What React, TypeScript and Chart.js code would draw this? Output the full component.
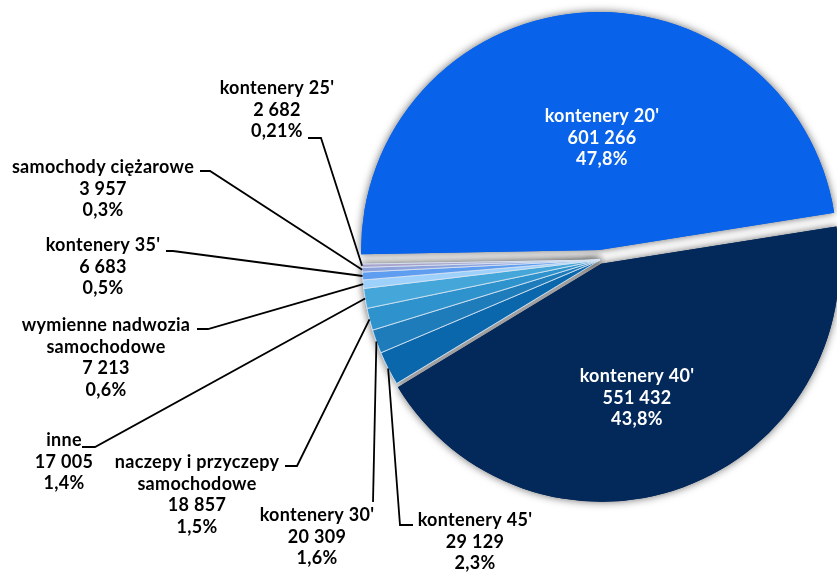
import React, { useEffect, useRef } from "react";
import { Chart, registerables } from "chart.js";

Chart.register(...registerables);

// ---- data ----
const categories = [
  "kontenery 20'",
  "kontenery 40'",
  "kontenery 45'",
  "kontenery 30'",
  "naczepy i przyczepy samochodowe",
  "inne",
  "wymienne nadwozia samochodowe",
  "kontenery 35'",
  "samochody ciężarowe",
  "kontenery 25'",
];
const values = [601266, 551432, 29129, 20309, 18857, 17005, 7213, 6683, 3957, 2682];
const valueLabels = ["601 266", "551 432", "29 129", "20 309", "18 857", "17 005", "7 213", "6 683", "3 957", "2 682"];
const percentLabels = ["47,8%", "43,8%", "2,3%", "1,6%", "1,5%", "1,4%", "0,6%", "0,5%", "0,3%", "0,21%"];
const nameLines = [
  ["kontenery 20'"],
  ["kontenery 40'"],
  ["kontenery 45'"],
  ["kontenery 30'"],
  ["naczepy i przyczepy", "samochodowe"],
  ["inne"],
  ["wymienne nadwozia", "samochodowe"],
  ["kontenery 35'"],
  ["samochody ciężarowe"],
  ["kontenery 25'"],
];

// ---- styles / layout ----
const colors = ["#0862EA", "#03285A", "#0A67AB", "#1E7CBB", "#2E92CC", "#45A7D9", "#9DD0FB", "#5E9DF0", "#8EA2DC", "#A9A2CA"];
const borderWidths = [0, 0, 1, 1, 1, 1, 1, 1, 1, 1];
const explode = [10, 4, 0, 0, 0, 0, 0, 0, 0, 0];
type LabelPos = { x: number; y: number; color: string; leader?: number[][] };
const labelLayout: LabelPos[] = [
  { x: 602, y: 116, color: "#ffffff" },
  { x: 637, y: 376, color: "#ffffff" },
  { x: 475, y: 520, color: "#000000", leader: [[413, 525], [400, 525]] },
  { x: 317, y: 515, color: "#000000", leader: [[373, 502]] },
  { x: 197, y: 462, color: "#000000", leader: [[285, 466], [297, 466]] },
  { x: 64, y: 440, color: "#000000", leader: [[82, 447], [95, 447]] },
  { x: 106, y: 325, color: "#000000", leader: [[197, 329], [208, 329]] },
  { x: 103, y: 245, color: "#000000", leader: [[166, 251], [173, 251]] },
  { x: 103, y: 167, color: "#000000", leader: [[200, 171], [210, 171]] },
  { x: 277, y: 88, color: "#000000", leader: [[308, 138], [321, 138]] },
];
const LINE_H = 21.8;
const FONT = "bold 18px Lato, 'Open Sans', sans-serif";

const piePlugin = {
  id: "customPie",
  beforeDatasetsDraw(chart: any) {
    const ctx = chart.ctx as CanvasRenderingContext2D;
    const meta = chart.getDatasetMeta(0);
    const drawAll = (shadow: boolean) => {
      meta.data.forEach((arc: any, i: number) => {
        const mid = (arc.startAngle + arc.endAngle) / 2;
        ctx.save();
        ctx.translate(Math.cos(mid) * explode[i], Math.sin(mid) * explode[i]);
        if (shadow) {
          ctx.shadowColor = "rgba(0,0,0,0.6)";
          ctx.shadowBlur = 8;
        }
        arc.draw(ctx);
        ctx.restore();
      });
    };
    drawAll(true);
    drawAll(false);
    return false;
  },
  afterDraw(chart: any) {
    const ctx = chart.ctx as CanvasRenderingContext2D;
    const meta = chart.getDatasetMeta(0);
    ctx.save();
    ctx.font = FONT;
    (ctx as any).letterSpacing = "0.3px";
    ctx.textAlign = "center";
    ctx.textBaseline = "middle";
    meta.data.forEach((arc: any, i: number) => {
      const lay = labelLayout[i];
      if (lay.leader) {
        const mid = (arc.startAngle + arc.endAngle) / 2;
        const ex = arc.x + Math.cos(mid) * (arc.outerRadius + explode[i]);
        const ey = arc.y + Math.sin(mid) * (arc.outerRadius + explode[i]);
        ctx.beginPath();
        ctx.strokeStyle = "#000000";
        ctx.lineWidth = 1.8;
        lay.leader.forEach((p, k) => {
          if (k === 0) ctx.moveTo(p[0], p[1]);
          else ctx.lineTo(p[0], p[1]);
        });
        ctx.lineTo(ex, ey);
        ctx.stroke();
      }
      const lines = [...nameLines[i], valueLabels[i], percentLabels[i]];
      ctx.fillStyle = lay.color;
      lines.forEach((t, k) => ctx.fillText(t, lay.x, lay.y + k * LINE_H));
    });
    ctx.restore();
  },
};

export default function App() {
  const ref = useRef<HTMLCanvasElement>(null);
  useEffect(() => {
    if (!ref.current) return;
    const chart = new Chart(ref.current, {
      type: "pie",
      data: {
        labels: categories,
        datasets: [
          {
            data: values,
            backgroundColor: colors,
            borderColor: "rgba(215,228,242,0.85)",
            borderWidth: borderWidths,
          },
        ],
      },
      options: {
        responsive: false,
        animation: false,
        events: [],
        rotation: 269,
        radius: 238,
        layout: { padding: { left: 400, right: 37, top: 0, bottom: 52 } },
        plugins: {
          legend: { display: false },
          tooltip: { enabled: false },
        },
      } as any,
      plugins: [piePlugin],
    });
    return () => chart.destroy();
  }, []);
  return (
    <div style={{ position: "absolute", left: 0, top: 0, width: 837, height: 572, background: "#fff" }}>
      <canvas ref={ref} width={837} height={572} />
    </div>
  );
}
